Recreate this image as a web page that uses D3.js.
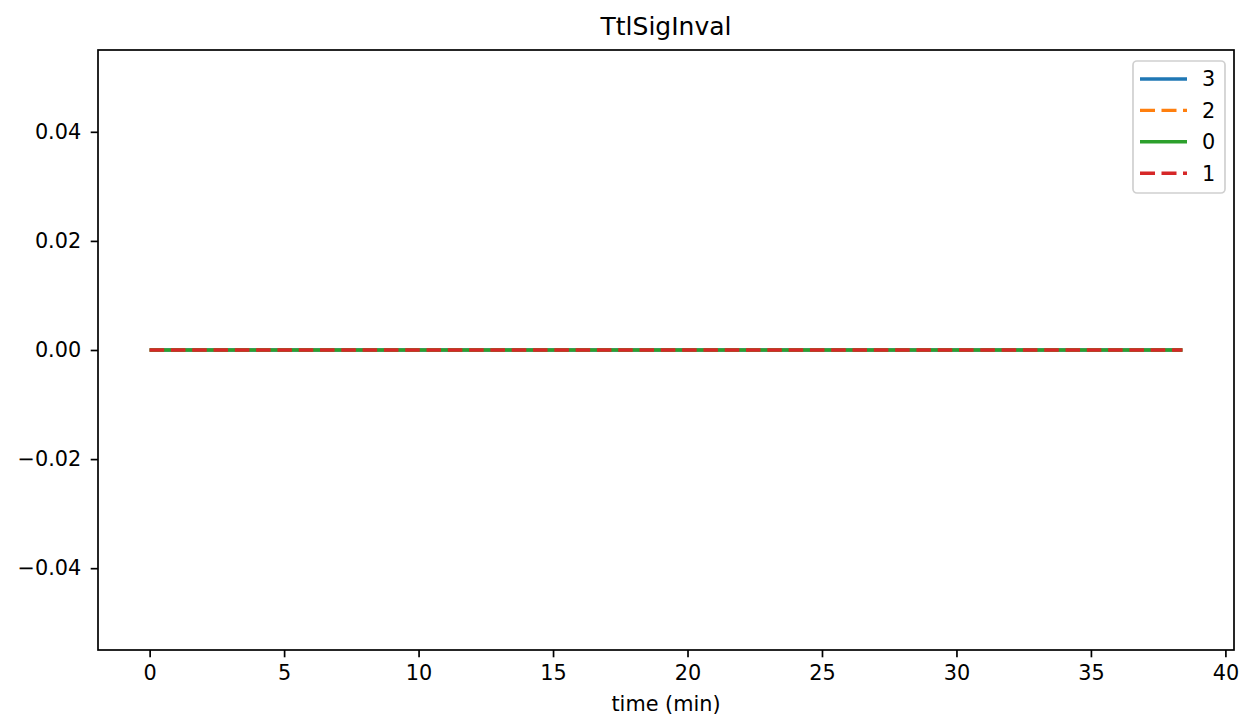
<!DOCTYPE html>
<html>
<head>
<meta charset="utf-8">
<script src="https://cdn.jsdelivr.net/npm/d3@7"></script>
<style>
  html, body { margin: 0; padding: 0; background: #fff; }
  svg { display: block; font-family: "DejaVu Sans", sans-serif; }
</style>
</head>
<body>
<svg id="chart" width="1243" height="716"></svg>
<script>
// ---- data ----
const seriesNames = ["3", "2", "0", "1"];
const seriesColors = ["#1f77b4", "#ff7f0e", "#2ca02c", "#d62728"];
const seriesDashed = [false, true, false, true];
const time = [0, 38.4];
const values3 = [0, 0];
const values2 = [0, 0];
const values0 = [0, 0];
const values1 = [0, 0];
const seriesValues = [values3, values2, values0, values1];
const xTicks = [0, 5, 10, 15, 20, 25, 30, 35, 40];
const yTicks = [-0.04, -0.02, 0, 0.02, 0.04];
const titleText = "TtlSigInval";
const xLabelText = "time (min)";

// ---- layout ----
const W = 1243, H = 716;
const L = 98, R = 1234, T = 50, B = 650;
const tickFont = 20.8, titleFont = 25;

const svg = d3.select("#chart");

const xMin = d3.min(time), xMax = d3.max(time);
const xPad = (xMax - xMin) * 0.05;
const x = d3.scaleLinear().domain([xMin - xPad, xMax + xPad]).range([L, R]);
const y = d3.scaleLinear().domain([-0.055, 0.055]).range([B, T]);

// lines
const line = d3.line().x(d => x(d[0])).y(d => y(d[1]));
const plot = svg.append("g");
seriesValues.forEach((vals, i) => {
  const pts = time.map((t, j) => [t, vals[j]]);
  plot.append("path")
    .attr("d", line(pts))
    .attr("fill", "none")
    .attr("stroke", seriesColors[i])
    .attr("stroke-width", 3.4)
    .attr("stroke-dasharray", seriesDashed[i] ? "14.5,6.8" : null)
    .attr("stroke-linecap", "butt");
});

// axes
const fmtY = d3.format(".2f");
const xAxis = d3.axisBottom(x).tickValues(xTicks).tickFormat(d3.format("d"))
  .tickSize(7.3).tickPadding(7.3);
const yAxis = d3.axisLeft(y).tickValues(yTicks).tickFormat(d => fmtY(d))
  .tickSize(7.3).tickPadding(9.5);

const gx = svg.append("g").attr("transform", `translate(0,${B})`).call(xAxis);
const gy = svg.append("g").attr("transform", `translate(${L},0)`).call(yAxis);
[gx, gy].forEach(g => {
  g.select(".domain").remove();
  g.selectAll(".tick line").attr("stroke", "#000").attr("stroke-width", 1.7);
  g.selectAll(".tick text").attr("fill", "#000")
    .style("font-size", tickFont + "px")
    .style("font-family", "DejaVu Sans");
});
gx.selectAll(".tick text").attr("dy", "0.76em");

// frame
svg.append("rect")
  .attr("x", L).attr("y", T).attr("width", R - L).attr("height", B - T)
  .attr("fill", "none").attr("stroke", "#000").attr("stroke-width", 1.7);

// title
svg.append("text")
  .attr("x", (L + R) / 2).attr("y", 35)
  .attr("text-anchor", "middle")
  .style("font-size", titleFont + "px")
  .text(titleText);

// x label
svg.append("text")
  .attr("x", (L + R) / 2).attr("y", 711)
  .attr("text-anchor", "middle")
  .style("font-size", tickFont + "px")
  .text(xLabelText);

// legend
const lg = svg.append("g");
lg.append("rect")
  .attr("x", 1133).attr("y", 61).attr("width", 92).attr("height", 132)
  .attr("rx", 4).attr("ry", 4)
  .attr("fill", "rgba(255,255,255,0.8)")
  .attr("stroke", "#d0d0d0").attr("stroke-width", 1.7);
seriesNames.forEach((name, i) => {
  const yy = 79 + i * 31.4;
  lg.append("line")
    .attr("x1", 1140).attr("x2", 1187).attr("y1", yy).attr("y2", yy)
    .attr("stroke", seriesColors[i]).attr("stroke-width", 3.4)
    .attr("stroke-dasharray", seriesDashed[i] ? "15,6.5" : null);
  lg.append("text")
    .attr("x", 1202).attr("y", yy).attr("dy", "0.36em")
    .style("font-size", tickFont + "px")
    .text(name);
});
</script>
</body>
</html>
